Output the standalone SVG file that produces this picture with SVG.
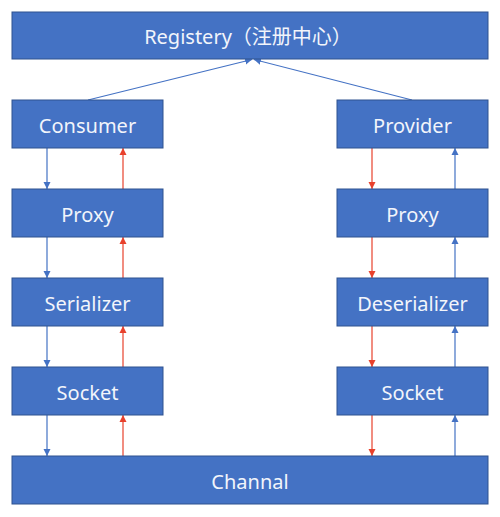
<svg xmlns="http://www.w3.org/2000/svg" width="500" height="517" viewBox="0 0 500 517">
<style>
.box{fill:#4472C4;stroke:#2F528F;stroke-width:1}
.lbl{fill:#F2F5FB;font-family:"Noto Sans","Noto Sans CJK SC",sans-serif;font-size:20px;text-anchor:middle;dominant-baseline:central}
.b{stroke:#4472C4;stroke-width:1.2;fill:none}
.r{stroke:#E8412C;stroke-width:1.2;fill:none}
</style>
<defs>
<marker id="ab" markerWidth="8" markerHeight="8" refX="7" refY="4" orient="auto" markerUnits="userSpaceOnUse"><path d="M0,0.5 L7,4 L0,7.5 Z" fill="#4472C4"/></marker>
<marker id="ar" markerWidth="8" markerHeight="8" refX="7" refY="4" orient="auto" markerUnits="userSpaceOnUse"><path d="M0,0.5 L7,4 L0,7.5 Z" fill="#E8412C"/></marker>
</defs>
<rect width="500" height="517" fill="#FFFFFF"/>
<g id="connectors">
<line class="b" x1="88" y1="100" x2="252" y2="59.5" marker-end="url(#ab)"/>
<line class="b" x1="412" y1="100" x2="254" y2="59.5" marker-end="url(#ab)"/>
<line class="b" x1="47" y1="148" x2="47" y2="189" marker-end="url(#ab)"/>
<line class="b" x1="47" y1="237" x2="47" y2="278" marker-end="url(#ab)"/>
<line class="b" x1="47" y1="326" x2="47" y2="367" marker-end="url(#ab)"/>
<line class="b" x1="47" y1="415" x2="47" y2="456" marker-end="url(#ab)"/>
<line class="r" x1="123" y1="456" x2="123" y2="415" marker-end="url(#ar)"/>
<line class="r" x1="123" y1="367" x2="123" y2="326" marker-end="url(#ar)"/>
<line class="r" x1="123" y1="278" x2="123" y2="237" marker-end="url(#ar)"/>
<line class="r" x1="123" y1="189" x2="123" y2="148" marker-end="url(#ar)"/>
<line class="r" x1="372" y1="148" x2="372" y2="189" marker-end="url(#ar)"/>
<line class="r" x1="372" y1="237" x2="372" y2="278" marker-end="url(#ar)"/>
<line class="r" x1="372" y1="326" x2="372" y2="367" marker-end="url(#ar)"/>
<line class="r" x1="372" y1="415" x2="372" y2="456" marker-end="url(#ar)"/>
<line class="b" x1="455" y1="456" x2="455" y2="415" marker-end="url(#ab)"/>
<line class="b" x1="455" y1="367" x2="455" y2="326" marker-end="url(#ab)"/>
<line class="b" x1="455" y1="278" x2="455" y2="237" marker-end="url(#ab)"/>
<line class="b" x1="455" y1="189" x2="455" y2="148" marker-end="url(#ab)"/>
</g>
<g id="registery"><rect class="box" x="12" y="12" width="476" height="47"/><text class="lbl" x="248" y="36">Registery（注册中心）</text></g>
<g id="consumer"><rect class="box" x="12" y="100" width="151" height="48"/><text class="lbl" x="87.5" y="125">Consumer</text></g>
<g id="proxy-left"><rect class="box" x="12" y="189" width="151" height="48"/><text class="lbl" x="87.5" y="214">Proxy</text></g>
<g id="serializer"><rect class="box" x="12" y="278" width="151" height="48"/><text class="lbl" x="87.5" y="303">Serializer</text></g>
<g id="socket-left"><rect class="box" x="12" y="367" width="151" height="48"/><text class="lbl" x="87.5" y="392">Socket</text></g>
<g id="provider"><rect class="box" x="337" y="100" width="151" height="48"/><text class="lbl" x="412.5" y="125">Provider</text></g>
<g id="proxy-right"><rect class="box" x="337" y="189" width="151" height="48"/><text class="lbl" x="412.5" y="214">Proxy</text></g>
<g id="deserializer"><rect class="box" x="337" y="278" width="151" height="48"/><text class="lbl" x="412.5" y="303">Deserializer</text></g>
<g id="socket-right"><rect class="box" x="337" y="367" width="151" height="48"/><text class="lbl" x="412.5" y="392">Socket</text></g>
<g id="channal"><rect class="box" x="12" y="456" width="476" height="48"/><text class="lbl" x="250" y="481">Channal</text></g>
</svg>
